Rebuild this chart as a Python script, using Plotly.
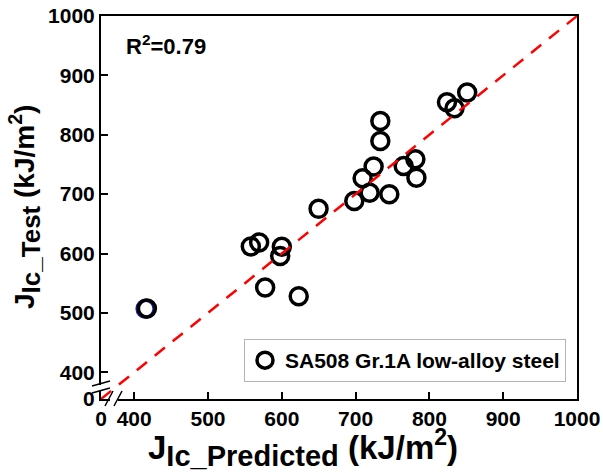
import plotly.graph_objects as go

# Data
jic_predicted = [733.5, 733.5, 724.4, 709.5, 719.0, 698.2, 745.7, 765.1, 781.0, 782.4,
                 649.8, 823.8, 834.0, 851.2, 558.0, 569.3, 600.0, 597.8, 577.4, 622.9, 417.2]
jic_test = [823.3, 789.5, 746.4, 726.6, 702.5, 688.4, 699.7, 747.4, 758.7, 727.8,
            675.2, 854.8, 844.7, 871.2, 612.0, 618.7, 611.5, 596.0, 542.8, 528.2, 507.4]
blue_predicted = [415.5]
blue_test = [507.0]
diag = [355, 1000]

tick_vals = [355, 400, 500, 600, 700, 800, 900, 1000]
tick_text = ["0", "400", "500", "600", "700", "800", "900", "1000"]
series_name = "SA508 Gr.1A low-alloy steel"
r2_text = "R<sup>2</sup>=0.79"

FONT = "Liberation Sans, Arial, sans-serif"

fig = go.Figure()
fig.add_trace(go.Scatter(x=blue_predicted, y=blue_test, mode="markers", showlegend=False,
                         marker=dict(symbol="circle-open", size=17, color="#1c1c9c",
                                     line=dict(width=3.5, color="#1c1c9c"))))
fig.add_trace(go.Scatter(x=jic_predicted, y=jic_test, mode="markers", name=series_name,
                         marker=dict(symbol="circle-open", size=17, color="black",
                                     line=dict(width=3.5, color="black"))))
fig.add_trace(go.Scatter(x=diag, y=diag, mode="lines", showlegend=False,
                         line=dict(color="#ff0000", width=2.5, dash="13px,10px")))

L, R, T, B = 101, 26, 16, 74
W, H = 603, 473
pw, ph = W - L - R, H - T - B


def px(xp):
    return (xp - L) / pw


def py(yp):
    return (H - B - yp) / ph


axis_common = dict(range=[355, 1000], tickvals=tick_vals, ticktext=tick_text,
                   showgrid=False, zeroline=False, showline=True, linecolor="black",
                   linewidth=2, mirror=True, ticks="inside", ticklen=7, tickwidth=2,
                   tickcolor="black", automargin=False,
                   tickfont=dict(family=FONT, size=21, color="black", weight="bold"))
fig.update_xaxes(**axis_common)
fig.update_yaxes(**axis_common)

shapes = []
# masks for axis breaks
shapes.append(dict(type="rect", xref="paper", yref="paper", x0=px(110), x1=px(118),
                   y0=py(403), y1=py(395), fillcolor="white", line=dict(width=0), layer="above"))
shapes.append(dict(type="rect", xref="paper", yref="paper", x0=px(97), x1=px(105),
                   y0=py(391), y1=py(385), fillcolor="white", line=dict(width=0), layer="above"))
# break slashes (x axis)
for dx in (0, 9):
    shapes.append(dict(type="line", xref="paper", yref="paper", x0=px(105 + dx), y0=py(406),
                       x1=px(113 + dx), y1=py(391), line=dict(color="black", width=1.5),
                       layer="above"))
# break slashes (y axis)
for dy in (0, 7):
    shapes.append(dict(type="line", xref="paper", yref="paper", x0=px(92), y0=py(386 + dy),
                       x1=px(110), y1=py(381 + dy), line=dict(color="black", width=1.5),
                       layer="above"))

annotations = [
    dict(text=r2_text, xref="paper", yref="paper", x=px(124), y=py(45), xanchor="left",
         yanchor="middle", showarrow=False,
         font=dict(family=FONT, size=22, color="black", weight="bold")),
    dict(text="J<sub><span style='font-size:29px'>Ic_Predicted</span></sub> (kJ/m<sup>2</sup>)",
         xref="paper", yref="paper", x=px(303), y=py(448), xanchor="center", yanchor="middle",
         showarrow=False, font=dict(family=FONT, size=33, color="black", weight="bold")),
    dict(text="J<sub><span style='font-size:26px'>Ic_Test</span></sub> (kJ/m<sup>2</sup>)",
         xref="paper", yref="paper", x=px(25), y=py(207), xanchor="center", yanchor="middle",
         textangle=-90, showarrow=False,
         font=dict(family=FONT, size=28, color="black", weight="bold")),
]

fig.update_layout(
    width=W, height=H, margin=dict(l=L, r=R, t=T, b=B, autoexpand=False),
    plot_bgcolor="white", paper_bgcolor="white",
    shapes=shapes, annotations=annotations,
    legend=dict(x=px(566), y=py(382), xanchor="right", yanchor="bottom",
                bordercolor="#b4b4b4", borderwidth=1, bgcolor="white",
                font=dict(family=FONT, size=21, color="black", weight="bold")),
)

fig.write_html("out.html", config={"displayModeBar": False},
               post_script="document.body.style.margin='0';")
